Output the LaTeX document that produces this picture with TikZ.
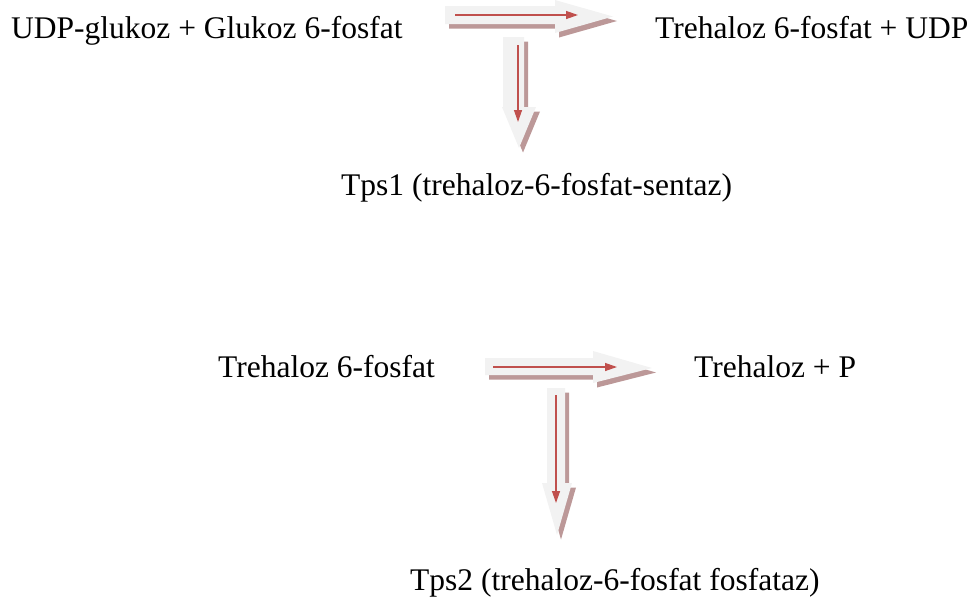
\documentclass[tikz,border=0pt]{standalone}
\usepackage{fontspec}
\setmainfont{Liberation Serif}
\usetikzlibrary{arrows.meta}
\definecolor{arrowgray}{RGB}{242,242,242}
\definecolor{arrowshade}{RGB}{188,152,152}
\definecolor{redline}{RGB}{192,80,77}
% block arrow with a soft shadow offset down and to the right
\newcommand\shadedarrow[1]{%
  \fill[blockshade,shift={(4,4.5)}] #1;
  \fill[blockbody] #1;}
\begin{document}
\begin{tikzpicture}[x=1pt,y=-1pt,
  chem/.style={inner sep=0pt, anchor=base west, font=\fontsize{31.5}{36}\selectfont},
  blockbody/.style={fill=arrowgray},
  blockshade/.style={fill=arrowshade},
  flow/.style={draw=redline, line width=1.3pt, -{Triangle[length=12pt,width=8pt]}}]
\useasboundingbox (0,0) rectangle (977,600);

% reaction 1
\node[chem] (udpg) at (11,38) {UDP-glukoz + Glukoz 6-fosfat};
\node[chem] (t6pu) at (655,38) {Trehaloz 6-fosfat + UDP};
\node[chem] (tps1) at (341,195) {Tps1 (trehaloz-6-fosfat-sentaz)};

\shadedarrow{(445,6) -- (555,6) -- (555,0) -- (613,16.5) -- (555,33) -- (555,24) -- (445,24) -- cycle}
\shadedarrow{(503,37) -- (524,37) -- (524,107) -- (536,107) -- (519,148) -- (502,107) -- (503,107) -- cycle}
\coordinate (f1s) at (455,15);
\coordinate (f1e) at (578,15);
\draw[flow] (f1s) -- (f1e);
\coordinate (e1s) at (518,45);
\coordinate (e1e) at (518,122);
\draw[flow] (e1s) -- (e1e);

% reaction 2
\node[chem] (t6p) at (218,377) {Trehaloz 6-fosfat};
\node[chem] (trep) at (694,377) {Trehaloz + P};
\node[chem] (tps2) at (410,590) {Tps2 (trehaloz-6-fosfat fosfataz)};

\shadedarrow{(485,358) -- (593,358) -- (593,351) -- (652,368) -- (593,383) -- (593,375) -- (485,375) -- cycle}
\shadedarrow{(547,388) -- (565,388) -- (565,483) -- (572,483) -- (557,535) -- (542,483) -- (547,483) -- cycle}
\coordinate (f2s) at (493,367);
\coordinate (f2e) at (617,367);
\draw[flow] (f2s) -- (f2e);
\coordinate (e2s) at (556,395);
\coordinate (e2e) at (556,503);
\draw[flow] (e2s) -- (e2e);
\end{tikzpicture}
\end{document}
